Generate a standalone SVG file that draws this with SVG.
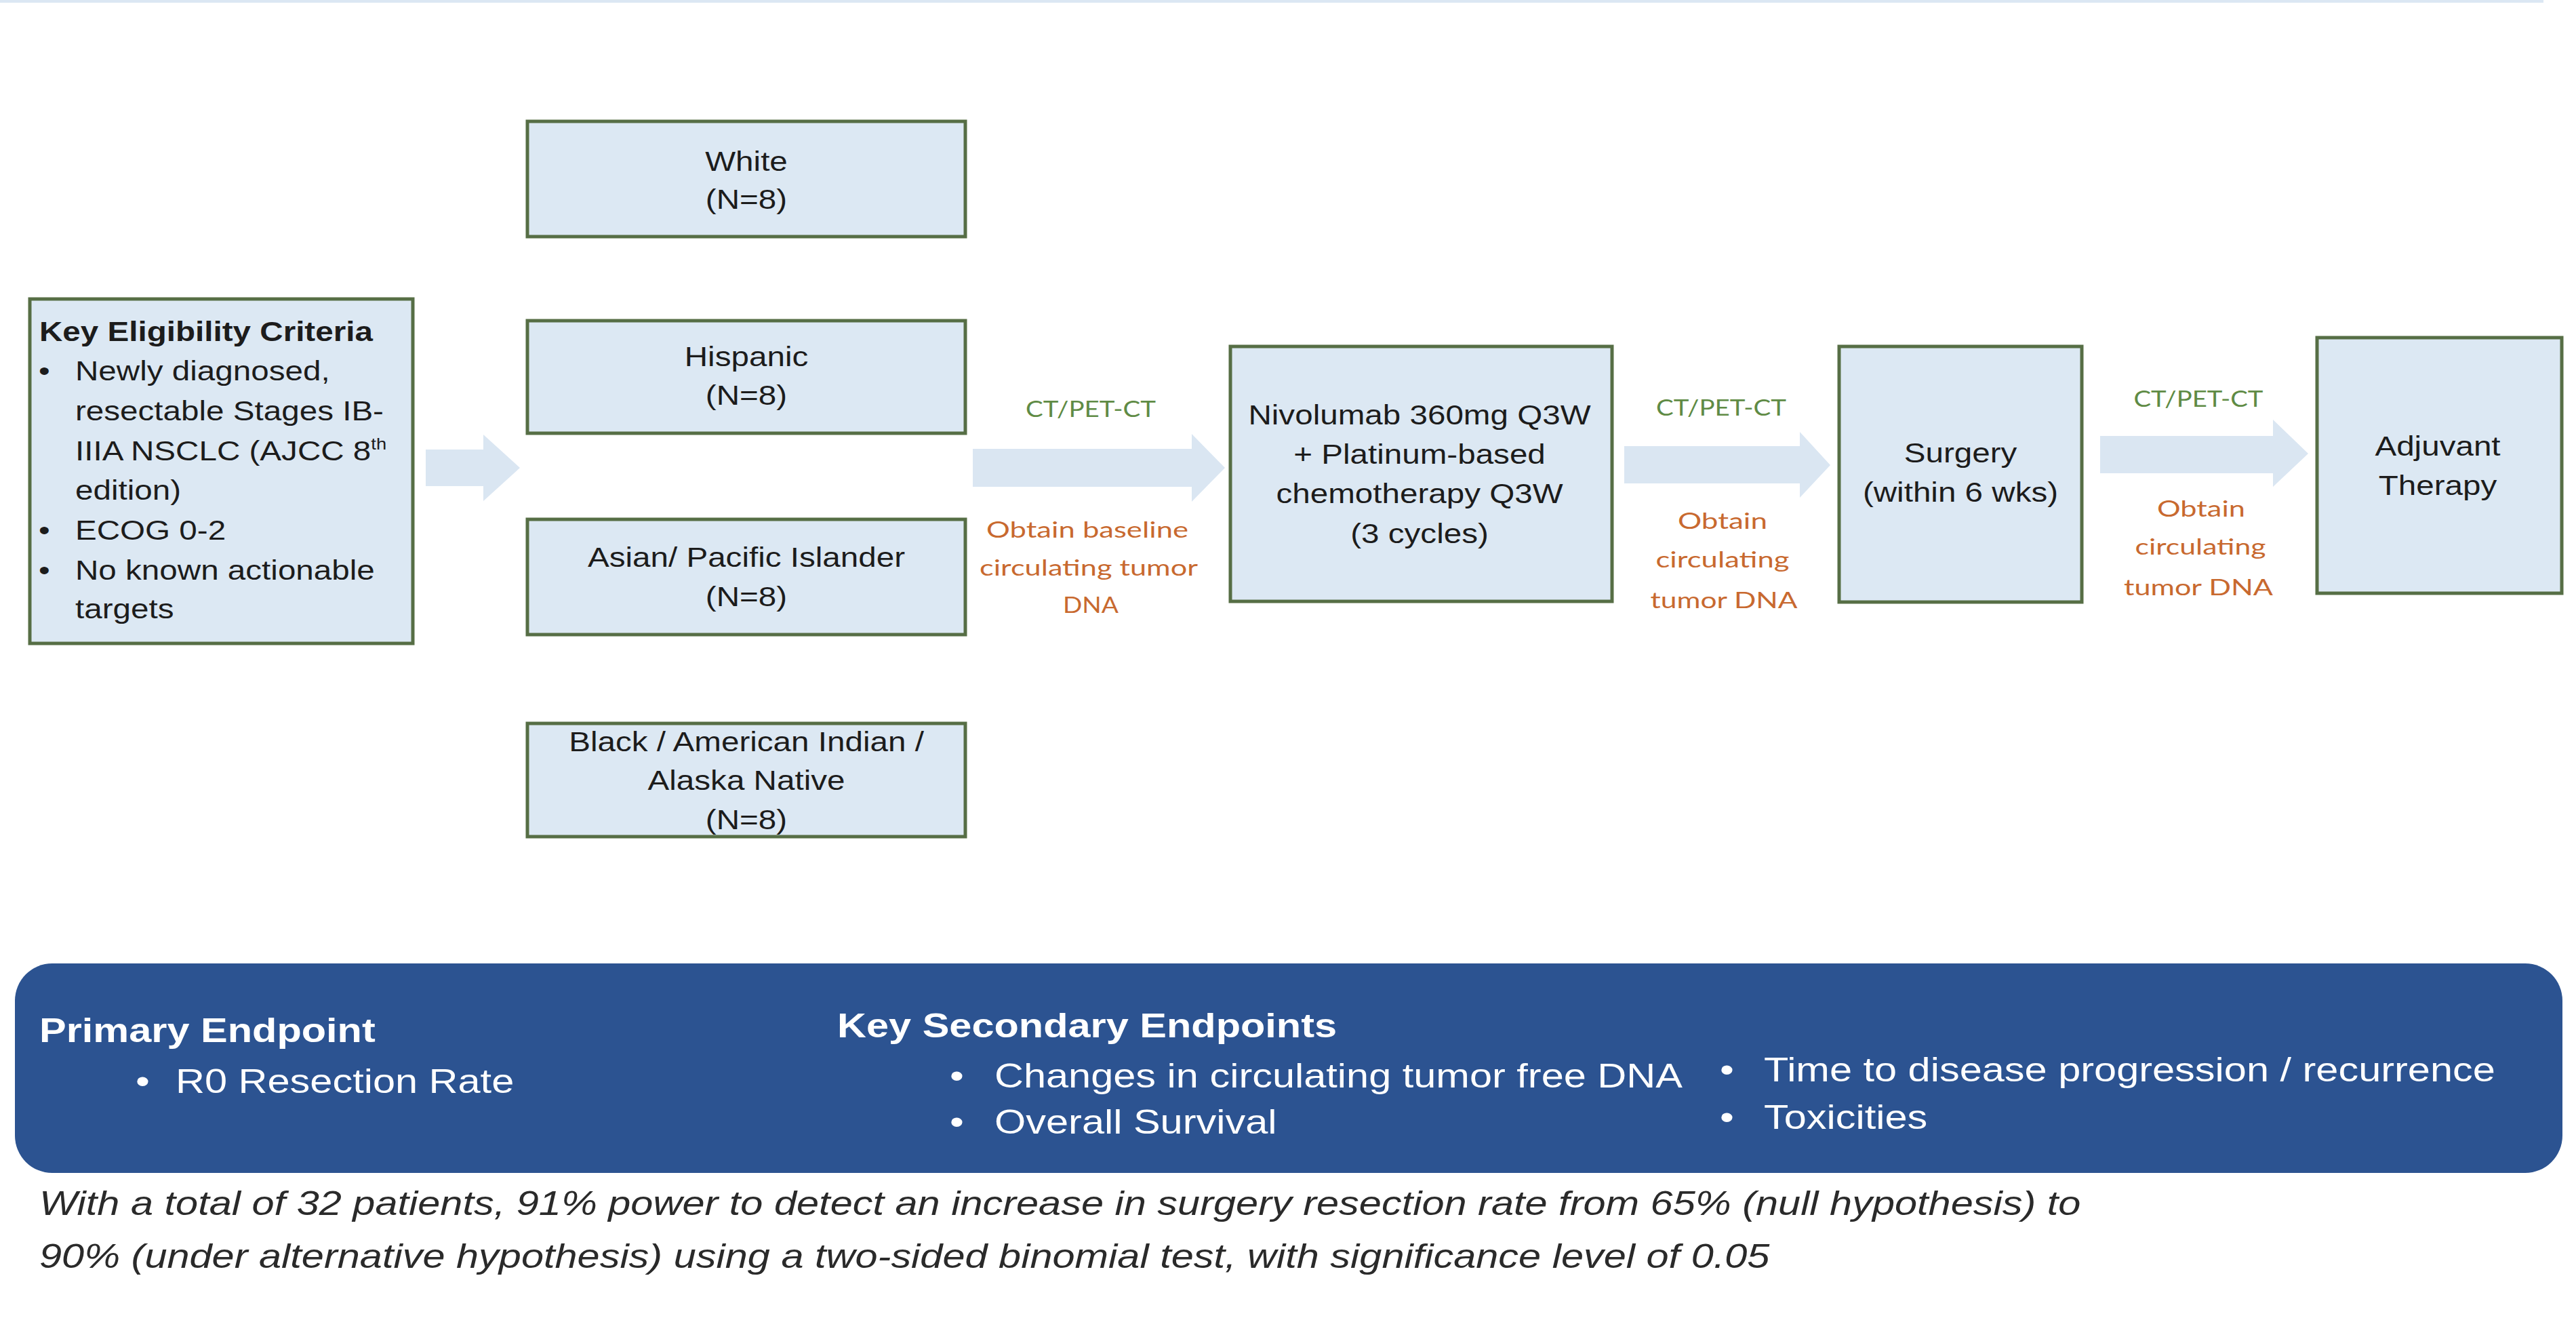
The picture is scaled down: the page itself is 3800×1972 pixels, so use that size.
<svg xmlns="http://www.w3.org/2000/svg" width="3800" height="1972" viewBox="0 0 3800 1972">
<style>
.box{fill:#dce8f3;stroke:#566e45;stroke-width:5}
.arrow{fill:#dae6f2}
.t{font-family:"Liberation Sans",Arial,Helvetica,sans-serif;font-size:40px;fill:#1c1c1c}
.c{text-anchor:middle}
.b{font-weight:bold}
.p{font-family:"Liberation Sans",Arial,Helvetica,sans-serif;font-size:50px;fill:#ffffff}
.it{font-family:"Liberation Sans",Arial,Helvetica,sans-serif;font-size:50px;font-style:italic;fill:#2a2a2a}
.g{font-family:Lato,"Open Sans",sans-serif;font-size:33px;fill:#5f8b45;text-anchor:middle}
.o{font-family:Lato,"Open Sans",sans-serif;font-size:33px;fill:#c8692f;text-anchor:middle}
</style>
<rect x="0" y="0" width="3800" height="1972" fill="#ffffff"/>
<line x1="0" y1="2" x2="3752" y2="2" stroke="#dbe7f3" stroke-width="4"/>

<g id="connectors">
  <polygon class="arrow" points="628,663 713,663 713,641 767,690 713,739 713,717 628,717"/>
  <polygon class="arrow" points="1435,662 1758,662 1758,640 1807,690 1758,740 1758,718 1435,718"/>
  <polygon class="arrow" points="2396,658 2655,658 2655,637 2700,686 2655,734 2655,713 2396,713"/>
  <polygon class="arrow" points="3098,643 3353,643 3353,619 3405,669 3353,718 3353,698 3098,698"/>
  <g id="label-baseline">
    <text class="g" x="1609" y="615" textLength="192" lengthAdjust="spacingAndGlyphs">CT/PET-CT</text>
    <text class="o" x="1604" y="793" textLength="298" lengthAdjust="spacingAndGlyphs">Obtain baseline</text>
    <text class="o" x="1606" y="849" textLength="322" lengthAdjust="spacingAndGlyphs">circulating tumor</text>
    <text class="o" x="1609" y="904" textLength="82" lengthAdjust="spacingAndGlyphs">DNA</text>
  </g>
  <g id="label-presurgery">
    <text class="g" x="2539" y="613" textLength="192" lengthAdjust="spacingAndGlyphs">CT/PET-CT</text>
    <text class="o" x="2541" y="780" textLength="132" lengthAdjust="spacingAndGlyphs">Obtain</text>
    <text class="o" x="2541" y="837" textLength="197" lengthAdjust="spacingAndGlyphs">circulating</text>
    <text class="o" x="2543" y="897" textLength="217" lengthAdjust="spacingAndGlyphs">tumor DNA</text>
  </g>
  <g id="label-postsurgery">
    <text class="g" x="3243" y="600" textLength="191" lengthAdjust="spacingAndGlyphs">CT/PET-CT</text>
    <text class="o" x="3247" y="762" textLength="130" lengthAdjust="spacingAndGlyphs">Obtain</text>
    <text class="o" x="3246" y="818" textLength="193" lengthAdjust="spacingAndGlyphs">circulating</text>
    <text class="o" x="3243" y="878" textLength="220" lengthAdjust="spacingAndGlyphs">tumor DNA</text>
  </g>
</g>

<g id="key-criteria">
  <rect class="box" x="44" y="441" width="565" height="508"/>
  <text class="t b" transform="translate(58 503) scale(1.19 1)">Key Eligibility Criteria</text>
  <text class="t" transform="translate(57 561) scale(1.19 1)">•</text>
  <text class="t" transform="translate(111 561) scale(1.19 1)">Newly diagnosed,</text>
  <text class="t" transform="translate(111 620) scale(1.19 1)">resectable Stages IB-</text>
  <text class="t" transform="translate(111 679) scale(1.19 1)">IIIA NSCLC (AJCC 8<tspan font-size="23" dy="-16">th</tspan></text>
  <text class="t" transform="translate(111 737) scale(1.19 1)">edition)</text>
  <text class="t" transform="translate(57 796) scale(1.19 1)">•</text>
  <text class="t" transform="translate(111 796) scale(1.19 1)">ECOG 0-2</text>
  <text class="t" transform="translate(57 855) scale(1.19 1)">•</text>
  <text class="t" transform="translate(111 855) scale(1.19 1)">No known actionable</text>
  <text class="t" transform="translate(111 912) scale(1.19 1)">targets</text>
</g>

<g id="pop-white">
  <rect class="box" x="778" y="179" width="646" height="170"/>
  <text class="t c" transform="translate(1101 252) scale(1.19 1)">White</text>
  <text class="t c" transform="translate(1101 308) scale(1.19 1)">(N=8)</text>
</g>
<g id="pop-hispanic">
  <rect class="box" x="778" y="473" width="646" height="166"/>
  <text class="t c" transform="translate(1101 540) scale(1.19 1)">Hispanic</text>
  <text class="t c" transform="translate(1101 597) scale(1.19 1)">(N=8)</text>
</g>
<g id="pop-asian">
  <rect class="box" x="778" y="766" width="646" height="170"/>
  <text class="t c" transform="translate(1101 836) scale(1.19 1)">Asian/ Pacific Islander</text>
  <text class="t c" transform="translate(1101 894) scale(1.19 1)">(N=8)</text>
</g>
<g id="pop-black">
  <rect class="box" x="778" y="1067" width="646" height="167"/>
  <text class="t c" transform="translate(1101 1108) scale(1.19 1)">Black / American Indian /</text>
  <text class="t c" transform="translate(1101 1165) scale(1.19 1)">Alaska Native</text>
  <text class="t c" transform="translate(1101 1223) scale(1.19 1)">(N=8)</text>
</g>

<g id="treatment">
  <rect class="box" x="1815" y="511" width="563" height="376"/>
  <text class="t c" transform="translate(2094 626) scale(1.19 1)">Nivolumab 360mg Q3W</text>
  <text class="t c" transform="translate(2094 684) scale(1.19 1)">+ Platinum-based</text>
  <text class="t c" transform="translate(2094 742) scale(1.19 1)">chemotherapy Q3W</text>
  <text class="t c" transform="translate(2094 801) scale(1.19 1)">(3 cycles)</text>
</g>

<g id="surgery">
  <rect class="box" x="2713" y="511" width="358" height="377"/>
  <text class="t c" transform="translate(2892 682) scale(1.19 1)">Surgery</text>
  <text class="t c" transform="translate(2892 740) scale(1.19 1)">(within 6 wks)</text>
</g>

<g id="adjuvant">
  <rect class="box" x="3418" y="498" width="361" height="377"/>
  <text class="t c" transform="translate(3596 672) scale(1.19 1)">Adjuvant</text>
  <text class="t c" transform="translate(3596 730) scale(1.19 1)">Therapy</text>
</g>

<g id="endpoints">
  <rect x="22" y="1421" width="3758" height="309" rx="55" ry="55" fill="#2c5391"/>
  <text class="p b" transform="translate(58 1537) scale(1.19 1)">Primary Endpoint</text>
  <text class="p" transform="translate(200 1612) scale(1.19 1)">•</text>
  <text class="p" transform="translate(259 1612) scale(1.19 1)">R0 Resection Rate</text>
  <text class="p b" transform="translate(1235 1530) scale(1.19 1)">Key Secondary Endpoints</text>
  <text class="p" transform="translate(1401 1604) scale(1.19 1)">•</text>
  <text class="p" transform="translate(1467 1604) scale(1.19 1)">Changes in circulating tumor free DNA</text>
  <text class="p" transform="translate(1401 1672) scale(1.19 1)">•</text>
  <text class="p" transform="translate(1467 1672) scale(1.19 1)">Overall Survival</text>
  <text class="p" transform="translate(2537 1595) scale(1.19 1)">•</text>
  <text class="p" transform="translate(2602 1595) scale(1.19 1)">Time to disease progression / recurrence</text>
  <text class="p" transform="translate(2537 1665) scale(1.19 1)">•</text>
  <text class="p" transform="translate(2602 1665) scale(1.19 1)">Toxicities</text>
</g>

<g id="footnote">
  <text class="it" transform="translate(58 1792) scale(1.19 1)">With a total of 32 patients, 91% power to detect an increase in surgery resection rate from 65% (null hypothesis) to</text>
  <text class="it" transform="translate(58 1870) scale(1.19 1)">90% (under alternative hypothesis) using a two-sided binomial test, with significance level of 0.05</text>
</g>
</svg>
